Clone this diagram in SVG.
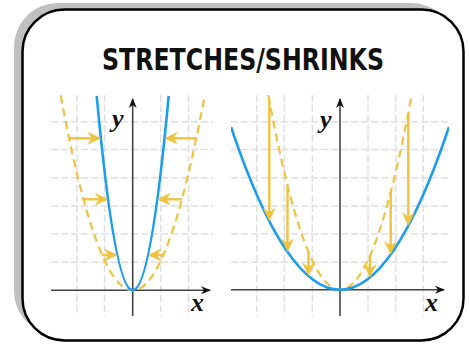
<svg xmlns="http://www.w3.org/2000/svg" width="470" height="344" viewBox="0 0 470 344">
<defs>
<style>
.grid{stroke:#dedede;stroke-width:1.5;stroke-dasharray:7 3;fill:none}
.axis{stroke:#444;stroke-width:1.6;fill:none}
.blue{stroke:#1a9cf0;stroke-width:2.6;fill:none}
.dash{stroke:#efc23f;stroke-width:2.2;fill:none;stroke-dasharray:8 5}
.arr{stroke:#efc23f;stroke-width:2.4;fill:none;marker-end:url(#ya)}
.lbl{font-family:"Liberation Serif","Times New Roman",serif;font-style:italic;font-weight:bold;font-size:26px;fill:#111}
.title{font-family:"DejaVu Sans","Liberation Sans",sans-serif;font-weight:bold;font-size:30px;fill:#111}
</style>
<marker id="ya" viewBox="-15 -7 16 14" refX="-2" refY="0" markerWidth="16" markerHeight="14" markerUnits="userSpaceOnUse" orient="auto">
<path d="M0,0 L-13.5,-6.5 L-9,0 L-13.5,6.5 Z" fill="#efc23f"/>
</marker>
<marker id="ka" viewBox="-11 -5 12 10" refX="-1" refY="0" markerWidth="12" markerHeight="10" markerUnits="userSpaceOnUse" orient="auto">
<path d="M0,0 L-10,-4 L-7,0 L-10,4 Z" fill="#111"/>
</marker>
<clipPath id="cl"><rect x="40" y="95" width="185" height="225"/></clipPath>
<clipPath id="cr"><rect x="231" y="95" width="218" height="225"/></clipPath>
</defs>

<g id="frame">
<rect x="14" y="3" width="441" height="332" rx="44" fill="#c0c0c0"/>
<rect x="22.5" y="9.5" width="441" height="331" rx="42" fill="#fff" stroke="#000" stroke-width="2.5"/>
</g>

<g id="title">
<text class="title" x="243" y="70" text-anchor="middle" textLength="282" lengthAdjust="spacingAndGlyphs">STRETCHES/SHRINKS</text>
</g>

<g id="left-plot">
<g class="grid">
<path d="M77,95V316M104.5,95V316M160.7,95V316M188.5,95V316"/>
<path d="M51,121.7H213M51,149.5H213M51,177.7H213M51,206H213M51,234H213M51,262.2H213"/>
</g>
<path class="axis" d="M51,290.3H210" marker-end="url(#ka)"/>
<path class="axis" d="M132.7,316V99" marker-end="url(#ka)"/>
<text class="lbl" x="112" y="127">y</text>
<text class="lbl" x="191" y="311">x</text>
<g clip-path="url(#cl)">
<path class="dash" d="M60.7,95.4 Q132.7,485.2 204.7,95.4"/>
<path class="blue" d="M96.7,95.9 Q132.7,484.7 168.7,95.9"/>
</g>
</g>

<g id="right-plot">
<g class="grid">
<path d="M256.7,95V316M284.3,95V316M312.3,95V316M368,95V316M395.7,95V316M423.3,95V316"/>
<path d="M231,121.7H448M231,149.5H448M231,177.7H448M231,206H448M231,234H448M231,262.2H448"/>
</g>
<path class="axis" d="M231,289.7H444" marker-end="url(#ka)"/>
<path class="axis" d="M340,316V99" marker-end="url(#ka)"/>
<text class="lbl" x="320" y="128">y</text>
<text class="lbl" x="425" y="311">x</text>
<g clip-path="url(#cr)">
<path class="dash" d="M268.3,94.9 Q340,484.5 411.7,94.9"/>
<path class="blue" d="M231,126.9 Q340,452.5 449,126.9"/>
</g>
</g>

<g id="connectors">
<path class="arr" d="M69.1,138.3H98.9"/>
<path class="arr" d="M196.3,138.3H166.5"/>
<path class="arr" d="M83.5,199.3H106.1"/>
<path class="arr" d="M181.9,199.3H159.3"/>
<path class="arr" d="M102.1,255H115.4"/>
<path class="arr" d="M163.3,255H150"/>
<path class="arr" d="M269.3,100.3V219.2"/>
<path class="arr" d="M287.5,185.2V249.9"/>
<path class="arr" d="M308.5,252.1V274.1"/>
<path class="arr" d="M408.3,112.9V223.8"/>
<path class="arr" d="M390.7,192.3V252.5"/>
<path class="arr" d="M370,255.6V275.4"/>
</g>
</svg>
